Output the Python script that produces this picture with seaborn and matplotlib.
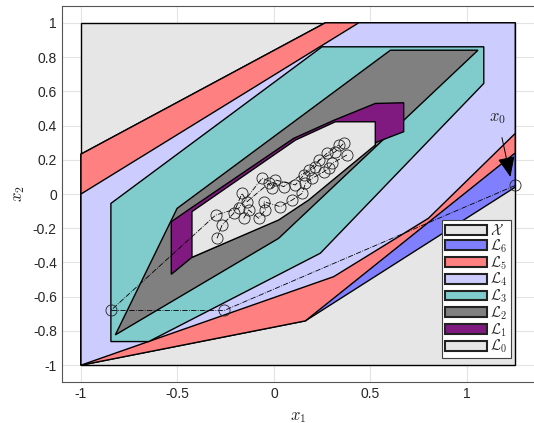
import numpy as np
import matplotlib
matplotlib.use("Agg")
import matplotlib.pyplot as plt
from matplotlib.patches import Patch
import seaborn as sns

# polytope vertices (x1, x2)
X_box = [(-1, -1), (1.25, -1), (1.25, 1), (-1, 1)]
L6 = [(-1, -1), (-1, 0.233), (0.266, 1), (1.25, 1), (1.25, 0.04), (0.163, -0.741)]
L5 = [(-1, -1), (-1, 0.233), (0.266, 1), (1.25, 1), (1.25, 0.24), (0.163, -0.741)]
L4 = [(-1, -1), (-1, 0), (0.439, 1), (1.25, 1), (1.25, 0.354), (0.80, -0.142), (0.309, -0.483)]
L3 = [(-0.845, -0.862), (-0.845, -0.055), (0.249, 0.86), (1.087, 0.86), (1.087, 0.646),
      (0.24, -0.346), (-0.649, -0.862)]
L2 = [(-0.822, -0.823), (-0.502, -0.084), (0.603, 0.84), (1.057, 0.84), (0.024, -0.259)]
L1 = [(-0.532, -0.469), (-0.532, -0.162), (-0.44, -0.09), (0.102, 0.325), (0.309, 0.43),
      (0.525, 0.529), (0.672, 0.533), (0.672, 0.364), (0.525, 0.30), (0.18, -0.03),
      (0.024, -0.148), (-0.425, -0.37)]
L0 = [(-0.425, -0.37), (-0.425, -0.103), (0.111, 0.315), (0.318, 0.422), (0.525, 0.422),
      (0.525, 0.286), (0.18, -0.035), (0.024, -0.152)]

sets = [X_box, L6, L5, L4, L3, L2, L1, L0]
set_colors = ["#e6e6e6", "#8080ff", "#ff8080", "#ccccff", "#80cccc", "#808080", "#801a80", "#e6e6e6"]
set_labels = [r"$\mathcal{X}$", r"$\mathcal{L}_6$", r"$\mathcal{L}_5$", r"$\mathcal{L}_4$",
              r"$\mathcal{L}_3$", r"$\mathcal{L}_2$", r"$\mathcal{L}_1$", r"$\mathcal{L}_0$"]

# closed-loop trajectories
traj1_x = [1.25, -0.257, -0.845, -0.302, -0.183, -0.062, 0.050, 0.180, 0.275, 0.335]
traj1_y = [0.05, -0.68, -0.68, -0.123, -0.083, 0.092, 0.043, 0.140, 0.238, 0.286]
traj2_x = [-0.295, -0.269, -0.209, -0.166, -0.140, -0.027, -0.010, 0.007, 0.111, 0.154, 0.215, 0.232, 0.318, 0.361]
traj2_y = [-0.259, -0.181, -0.113, 0.004, -0.045, 0.062, 0.033, 0.082, 0.053, 0.111, 0.159, 0.198, 0.247, 0.296]
traj3_x = [-0.157, -0.131, -0.079, -0.045, -0.053, 0.033, 0.094, 0.146, 0.163, 0.198, 0.258, 0.283, 0.301, 0.378]
traj3_y = [-0.142, -0.093, -0.142, -0.093, -0.045, -0.074, -0.035, 0.004, 0.062, 0.092, 0.130, 0.150, 0.179, 0.228]
trajs = [(traj1_x, traj1_y), (traj2_x, traj2_y), (traj3_x, traj3_y)]

sns.set_style("whitegrid", {"grid.color": "#e3e3e3"})
plt.rcParams["font.family"] = ["Liberation Sans", "DejaVu Sans"]
plt.rcParams["mathtext.fontset"] = "cm"
plt.rcParams["axes.unicode_minus"] = False

fig = plt.figure(figsize=(5.34, 4.23), dpi=100)
ax = fig.add_axes([0.1155, 0.0962, 0.8855, 0.8903])

for verts, c in zip(sets, set_colors):
    xs, ys = zip(*verts)
    ax.fill(xs, ys, facecolor=c, edgecolor="k", linewidth=1.0, zorder=2)

for tx, ty in trajs:
    sns.lineplot(x=tx, y=ty, sort=False, estimator=None, ax=ax, color="k", linewidth=0.6,
                 linestyle="-.", marker="o", markersize=8, markerfacecolor="none",
                 markeredgecolor="#222222", markeredgewidth=0.6, zorder=3)

ax.annotate(r"$x_0$", xy=(1.225, 0.1), xytext=(1.16, 0.44), fontsize=12, ha="center", va="center",
            arrowprops=dict(arrowstyle="-|>,head_length=0.7,head_width=0.3", color="k", lw=0.7,
                            mutation_scale=18, shrinkA=6, shrinkB=0), zorder=4)

ax.set_xlim(-1.1, 1.35)
ax.set_ylim(-1.1, 1.1)
ax.set_xticks([-1, -0.5, 0, 0.5, 1])
ax.set_xticklabels(["-1", "-0.5", "0", "0.5", "1"])
yt = [-1, -0.8, -0.6, -0.4, -0.2, 0, 0.2, 0.4, 0.6, 0.8, 1]
ax.set_yticks(yt)
ax.set_yticklabels(["-1", "-0.8", "-0.6", "-0.4", "-0.2", "0", "0.2", "0.4", "0.6", "0.8", "1"])
ax.tick_params(labelsize=10, colors="#262626", direction="in", length=3, width=0.6)
ax.set_axisbelow(True)
for s in ax.spines.values():
    s.set_color("#555555")
    s.set_linewidth(0.8)

ax.set_xlabel(r"$x_1$", fontsize=12, labelpad=6)
ax.set_ylabel(r"$x_2$", fontsize=12, labelpad=4)

handles = [Patch(facecolor=c, edgecolor="#222222", linewidth=1.5) for c in set_colors]
leg = ax.legend(handles, set_labels, loc="lower right", bbox_to_anchor=(1.228, -0.96),
                bbox_transform=ax.transData, borderaxespad=0, fontsize=10.5, frameon=True,
                fancybox=False, framealpha=1, edgecolor="#404040", handlelength=2.9,
                handleheight=0.65, labelspacing=-0.05, handletextpad=0.25, borderpad=0.2)
leg.get_frame().set_linewidth(0.8)
leg.set_zorder(5)

fig.savefig("out.png", dpi=100)
